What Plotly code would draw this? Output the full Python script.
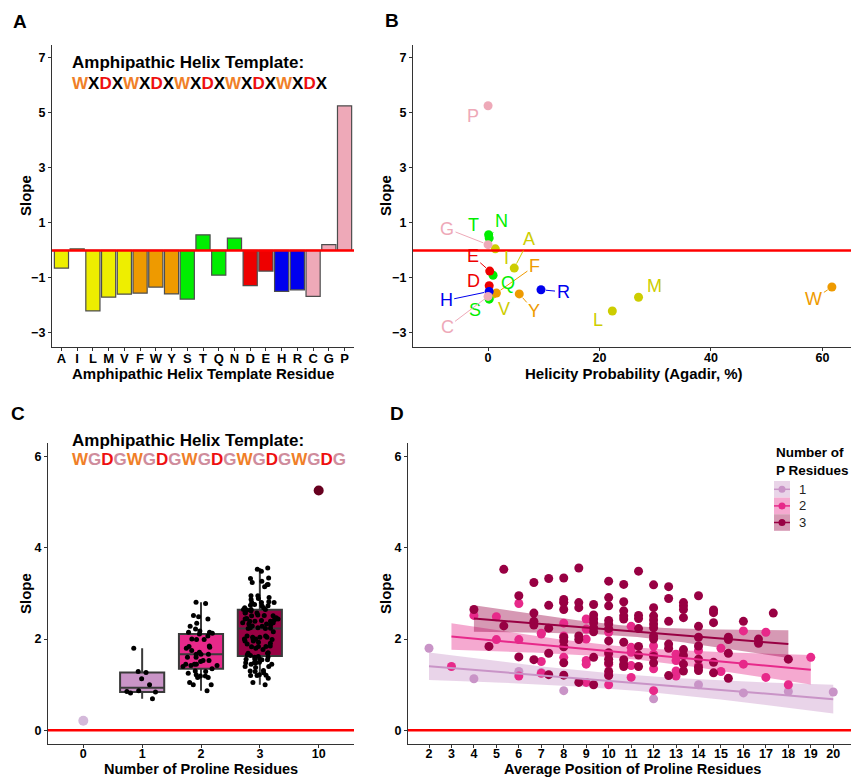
import numpy as np
import plotly.graph_objects as go

W, H = 851, 778
def px(x): return x / W
def py(y): return 1 - y / H

FONT = "Liberation Sans, Arial, sans-serif"

# ---------------- Panel A / B data ----------------
residues = ["A","I","L","M","V","F","W","Y","S","T","Q","N","D","E","H","R","C","G","P"]
slopes = [-0.64, 0.06, -2.20, -1.70, -1.59, -1.55, -1.33, -1.58, -1.77, 0.57,
          -0.90, 0.45, -1.28, -0.75, -1.49, -1.43, -1.67, 0.21, 5.26]
helicity = [4.7, 1.3, 22.3, 27.0, 0.9, 1.5, 61.7, 5.6, 0.2, 0.1,
            0.9, 0.2, 0.2, 0.3, 0.2, 9.5, 0.0, 0.0, 0.0]
residue_class = ["aliphatic"]*5 + ["aromatic"]*3 + ["polar"]*4 + ["acidic"]*2 + ["basic"]*2 + ["special"]*3
template_A = "WXDXWXDXWXDXWXDXWXDX"
template_C = "WGDGWGDGWGDGWGDGWGDG"

bar_colors = {"aliphatic": "#EEEE00", "aromatic": "#EE9A00", "polar": "#00EE00",
              "acidic": "#EE0000", "basic": "#0000EE", "special": "#EEA9B8"}
pt_colors = dict(bar_colors, aliphatic="#CDCD00")
letter_colors = {"W": "#F07F28", "D": "#EE1010", "X": "#000000", "G": "#CF8C9C"}

# ---------------- Panel C / D data ----------------
# (average position, slope) per number of P residues
pos1 = [2, 4, 6, 7, 8, 12, 14, 16, 18, 20]
slope1 = [1.80, 1.13, 1.29, 1.27, 0.87, 0.69, 1.00, 0.82, 0.85, 0.84]

pos2 = [3, 4, 5, 5, 6, 6, 6, 7, 7, 7, 7, 8, 8, 8, 8, 8, 9, 9, 9, 9, 9, 9, 10, 10, 10, 10, 10,
        11, 11, 11, 11, 11, 12, 12, 12, 12, 13, 13, 13, 13, 14, 14, 15, 15, 16, 16, 17, 17, 18, 19]
slope2 = [1.40, 2.52, 2.49, 1.99, 2.78, 1.99, 1.19, 2.11, 1.51, 1.25, 2.13, 2.07, 1.60, 1.84, 2.81, 2.35,
          2.44, 2.00, 1.53, 1.45, 1.05, 2.22, 2.15, 1.45, 1.00, 1.67, 1.22,
          2.28, 1.82, 1.71, 1.42, 1.16, 1.85, 0.87, 1.67, 1.35, 1.67, 1.53, 1.19, 1.30,
          1.75, 1.42, 1.80, 1.29, 2.18, 1.45, 2.15, 1.16, 1.00, 1.60]

pos3 = ([4.0] + [5.33]*2 + [6.0]*2 + [6.67]*5 + [7.33]*5 + [8.0]*9 + [8.67]*6 + [9.33]*8 +
        [10.0]*12 + [10.67]*9 + [11.33]*7 + [12.0]*10 + [12.67]*6 + [13.33]*8 + [14.0]*7 +
        [14.67]*5 + [15.33]*4 + [16.0] + [16.67]*2 + [17.33] + [18.0] + [4.67])
slope3 = ([2.65] + [3.53, 2.29] + [2.95, 1.61] + [3.24, 2.57, 2.39, 2.31, 1.55] +
          [3.33, 2.74, 2.24, 1.69, 1.22] + [3.34, 2.87, 2.80, 2.65, 2.04, 1.96, 1.83, 1.21, 1.48] +
          [3.56, 2.80, 2.69, 2.07, 1.99, 1.05] + [2.76, 2.53, 2.44, 2.36, 2.25, 2.16, 1.00, 1.60] +
          [3.27, 2.91, 2.73, 2.41, 2.33, 2.23, 1.96, 1.56, 1.48, 1.29, 1.20, 1.70] +
          [3.20, 2.82, 2.62, 2.51, 2.44, 1.93, 1.55, 1.45, 1.40] + [3.49, 2.52, 2.45, 2.23, 1.84, 1.40, 1.65] +
          [3.19, 2.69, 2.51, 2.42, 2.33, 2.25, 2.07, 2.00, 1.48, 1.62] + [3.15, 2.89, 2.39, 1.89, 1.80, 1.20] +
          [2.80, 2.73, 2.65, 2.47, 1.77, 1.64, 1.45, 1.30] + [2.95, 2.28, 2.04, 1.85, 1.56, 1.31, 1.38] +
          [2.64, 2.58, 2.36, 1.49, 1.26] + [2.04, 1.99, 1.69, 1.14] + [2.39] + [2.00, 1.91] +
          [2.57] + [1.56] + [1.84])

zero_P_slope = 0.21
ten_P_slope = 5.26
count_labels = ["0", "1", "2", "3", "10"]
group_colors = {"0": "#D4B9DA", "1": "#C994C7", "2": "#E7298A", "3": "#980043", "10": "#67001F"}
ribbon_colors = {"1": "rgba(201,148,199,0.40)", "2": "rgba(231,41,138,0.40)", "3": "rgba(152,0,67,0.40)"}

fig = go.Figure()

# ---------------- A: bars ----------------
fig.add_trace(go.Bar(x=residues, y=slopes, width=0.9,
                     marker=dict(color=[bar_colors[c] for c in residue_class],
                                 line=dict(color="#4D4D4D", width=1.2)),
                     xaxis="x", yaxis="y", showlegend=False))

# ---------------- B: scatter ----------------
fig.add_trace(go.Scatter(x=helicity, y=slopes, mode="markers",
                         marker=dict(color=[pt_colors[c] for c in residue_class], size=9),
                         xaxis="x2", yaxis="y2", showlegend=False))

label_offsets = {
    "P": (-15, 10, False), "G": (-41, -16, True), "T": (-15, -10, False), "N": (12, -17, True),
    "I": (11, 9, False), "A": (15, -29, True), "E": (-17, -15, True), "D": (-16, -5, False),
    "Q": (15, 8, False), "F": (38, -27, True), "R": (22, 2, True), "H": (-43, 9, True),
    "S": (-14, 11, False), "V": (11, 15, True), "Y": (15, 17, True), "C": (-41, 31, True),
    "L": (-14, 9, False), "M": (16, -11, False), "W": (-18, 12, True),
}
annotations = []
for r, s, h, c in zip(residues, slopes, helicity, residue_class):
    dx, dy, arrow = label_offsets[r]
    col = pt_colors[c]
    a = dict(x=h, y=s, xref="x2", yref="y2", text=r, xanchor="center", yanchor="middle",
             font=dict(family=FONT, size=18, color=col))
    if arrow:
        a.update(showarrow=True, ax=dx, ay=dy, arrowhead=0, arrowwidth=1,
                 arrowcolor=col, standoff=5)
    else:
        a.update(showarrow=False, xshift=dx, yshift=-dy)
    annotations.append(a)

# ---------------- C: boxes ----------------
fig.add_trace(go.Scatter(x=["0"], y=[zero_P_slope], mode="markers",
                         marker=dict(color=group_colors["0"], size=10),
                         xaxis="x3", yaxis="y3", showlegend=False))
for lab, ys in (("1", slope1), ("2", slope2), ("3", slope3)):
    fig.add_trace(go.Box(x=[lab]*len(ys), y=ys, boxpoints="all", jitter=0.9, pointpos=0,
                         marker=dict(color="black", size=5), fillcolor=group_colors[lab],
                         line=dict(color="#3A3A3A", width=2), width=0.75, whiskerwidth=0,
                         quartilemethod="linear", xaxis="x3", yaxis="y3", showlegend=False))
fig.add_trace(go.Scatter(x=["10"], y=[ten_P_slope], mode="markers",
                         marker=dict(color=group_colors["10"], size=10),
                         xaxis="x3", yaxis="y3", showlegend=False))

# ---------------- D: scatter + lm fits ----------------
def tcrit(df):
    z = 1.959964
    return (z + (z**3 + z)/(4*df) + (5*z**5 + 16*z**3 + 3*z)/(96*df**2)
            + (3*z**7 + 19*z**5 + 17*z**3 - 15*z)/(384*df**3))

def lm_fit(x, y):
    x = np.asarray(x, float); y = np.asarray(y, float)
    n = len(x)
    b, a = np.polyfit(x, y, 1)
    xs = np.linspace(x.min(), x.max(), 80)
    yh = a + b*xs
    s = np.sqrt(np.sum((y - (a + b*x))**2)/(n - 2))
    se = s*np.sqrt(1/n + (xs - x.mean())**2/np.sum((x - x.mean())**2))
    t = tcrit(n - 2)
    return xs, yh, yh - t*se, yh + t*se

groups = (("1", pos1, slope1), ("2", pos2, slope2), ("3", pos3, slope3))
fits = {lab: lm_fit(xv, yv) for lab, xv, yv in groups}
for lab, xv, yv in groups:
    xs, yh, lo, hi = fits[lab]
    fig.add_trace(go.Scatter(x=np.concatenate([xs, xs[::-1]]), y=np.concatenate([hi, lo[::-1]]),
                             fill="toself", fillcolor=ribbon_colors[lab], line=dict(width=0),
                             mode="lines", hoverinfo="skip", xaxis="x4", yaxis="y4", showlegend=False))
for lab, xv, yv in groups:
    fig.add_trace(go.Scatter(x=xv, y=yv, mode="markers",
                             marker=dict(color=group_colors[lab], size=9),
                             xaxis="x4", yaxis="y4", showlegend=False))
for lab, xv, yv in groups:
    xs, yh, lo, hi = fits[lab]
    fig.add_trace(go.Scatter(x=xs, y=yh, mode="lines", line=dict(color=group_colors[lab], width=2),
                             xaxis="x4", yaxis="y4", showlegend=False))

# ---------------- axes ----------------
tick_font = dict(family=FONT, size=12.5, color="black", weight="bold")
common = dict(showline=True, linecolor="#333333", linewidth=1.3, ticks="outside", ticklen=3,
              tickcolor="#333333", showgrid=False, zeroline=False, tickfont=tick_font)
xcommon = dict(common, ticklabelstandoff=-4)
xbottom = dict(common, ticklabelstandoff=-5)

yAB = dict(range=[-3.51, 7.47], tickvals=[-3, -1, 1, 3, 5, 7], **common)
yCD = dict(range=[-0.3, 6.3], tickvals=[0, 2, 4, 6], **common)

fig.update_layout(
    width=W, height=H, margin=dict(l=0, r=0, t=0, b=0),
    paper_bgcolor="white", plot_bgcolor="white",
    font=dict(family=FONT, color="black"),
    xaxis=dict(domain=[px(52), px(354)], anchor="y", type="category",
               categoryorder="array", categoryarray=residues, range=[-0.6, 18.6],
               tickmode="linear", tick0=0, dtick=1,
               **dict(xcommon, tickfont=dict(tick_font, size=13))),
    yaxis=dict(domain=[py(347), py(45)], anchor="x", **yAB),
    xaxis2=dict(domain=[px(413), 1.0], anchor="y2", range=[-13.47, 65.13],
                tickvals=[0, 20, 40, 60], **xcommon),
    yaxis2=dict(domain=[py(347), py(45)], anchor="x2", **yAB),
    xaxis3=dict(domain=[px(48), px(354)], anchor="y3", type="category",
                categoryorder="array", categoryarray=count_labels, range=[-0.6, 4.6],
                tickmode="linear", tick0=0, dtick=1, **xbottom),
    yaxis3=dict(domain=[py(744), py(443)], anchor="x3", **yCD),
    xaxis4=dict(domain=[px(408), 1.0], anchor="y4", range=[1.065, 20.79],
                tickvals=list(range(2, 21)), **xbottom),
    yaxis4=dict(domain=[py(744), py(443)], anchor="x4", **yCD),
)

# zero reference lines
shapes = []
for xr, yr in (("x", "y"), ("x2", "y2"), ("x3", "y3"), ("x4", "y4")):
    shapes.append(dict(type="line", xref=f"{xr} domain", x0=0, x1=1, yref=yr, y0=0, y1=0,
                       line=dict(color="#FF0000", width=2.5), layer="above"))

def paper_text(text, x, y, size, xanchor="center", angle=0, color="black", align="center"):
    return dict(x=px(x), y=py(y), xref="paper", yref="paper", text=text, showarrow=False,
                xanchor=xanchor, yanchor="middle", textangle=angle, align=align,
                font=dict(family=FONT, size=size, color=color))

# panel letters
for letter, x, y in (("A", 20, 22), ("B", 392, 21), ("C", 18, 413), ("D", 397, 413)):
    annotations.append(paper_text(f"<b>{letter}</b>", x, y, 19))

# axis titles
for text, x, y, ang, fs in (("Amphipathic Helix Template Residue", 203, 373, 0, 15),
                            ("Helicity Probability (Agadir, %)", 634, 373, 0, 15),
                            ("Number of Proline Residues", 201, 769, 0, 14.5),
                            ("Average Position of Proline Residues", 632, 769, 0, 14.5),
                            ("Slope", 25, 196, -90, 15), ("Slope", 385, 196, -90, 15),
                            ("Slope", 25, 594, -90, 15), ("Slope", 385, 594, -90, 15)):
    annotations.append(paper_text(f"<b>{text}</b>", x, y, fs, angle=ang))

# template headings
def seq_html(seq):
    return "<b>" + "".join(f"<span style='color:{letter_colors[ch]}'>{ch}</span>" for ch in seq) + "</b>"

for seq, y1, y2 in ((template_A, 63, 83), (template_C, 440, 459)):
    annotations.append(paper_text("<b>Amphipathic Helix Template:</b>", 70, y1, 17, xanchor="left"))
    annotations.append(paper_text(seq_html(seq), 70, y2, 17, xanchor="left"))

# legend for D (manual key)
annotations.append(paper_text("<b>Number of<br>P Residues</b>", 774, 461, 13.5,
                              xanchor="left", align="left"))
key_fill = {"1": "#E9D4E8", "2": "#F5A9D0", "3": "#D699B4"}
for i, lab in enumerate(["1", "2", "3"]):
    top = 481 + i*16.6
    bot = top + 16.6
    cy = (top + bot)/2
    shapes.append(dict(type="rect", xref="paper", yref="paper", x0=px(774), x1=px(790),
                       y0=py(bot), y1=py(top), fillcolor=key_fill[lab], line=dict(width=0)))
    shapes.append(dict(type="line", xref="paper", yref="paper", x0=px(774), x1=px(790),
                       y0=py(cy), y1=py(cy), line=dict(color=group_colors[lab], width=1.5)))
    shapes.append(dict(type="circle", xref="paper", yref="paper", x0=px(778.5), x1=px(785.5),
                       y0=py(cy + 3.5), y1=py(cy - 3.5), fillcolor=group_colors[lab],
                       line=dict(width=0)))
    annotations.append(paper_text(lab, 797, cy, 13, xanchor="left", color="#222"))

fig.update_layout(shapes=shapes, annotations=annotations)
fig.write_html("out.html", config={"displayModeBar": False},
               post_script="document.body.style.margin='0';")
